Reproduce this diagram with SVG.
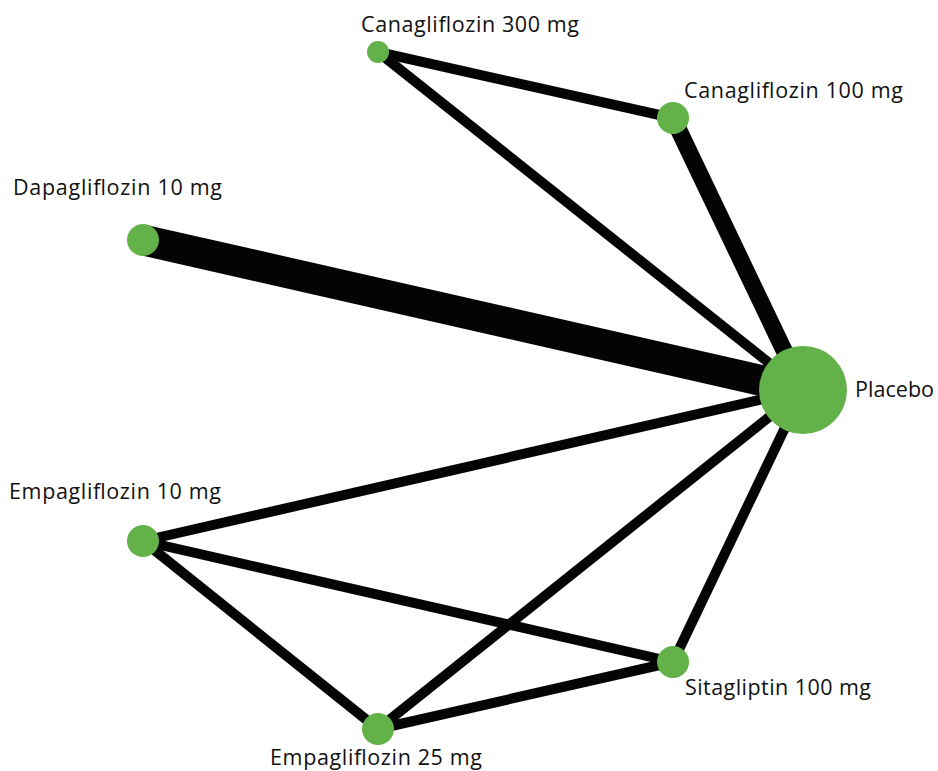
<svg xmlns="http://www.w3.org/2000/svg" width="938" height="771" viewBox="0 0 938 771">
<style>
.e{stroke:#030403;stroke-linecap:butt;fill:none}
.n{fill:#63b249}
text{font-family:"Open Sans","Noto Sans",sans-serif;font-size:21.5px;fill:#111}
</style>
<rect width="938" height="771" fill="#fff"/>
<g id="edges">
<line class="e" x1="143" y1="240" x2="803" y2="390" stroke-width="31"/>
<line class="e" x1="673" y1="118" x2="803" y2="390" stroke-width="17"/>
<line class="e" x1="378" y1="52" x2="673" y2="118" stroke-width="10"/>
<line class="e" x1="378" y1="52" x2="803" y2="390" stroke-width="10"/>
<line class="e" x1="143" y1="541" x2="803" y2="390" stroke-width="10"/>
<line class="e" x1="143" y1="541" x2="673" y2="662" stroke-width="10"/>
<line class="e" x1="143" y1="541" x2="378" y2="729" stroke-width="10"/>
<line class="e" x1="378" y1="729" x2="803" y2="390" stroke-width="10"/>
<line class="e" x1="378" y1="729" x2="673" y2="662" stroke-width="10"/>
<line class="e" x1="673" y1="662" x2="803" y2="390" stroke-width="10"/>
</g>
<g id="node-cana300"><circle class="n" cx="378" cy="52" r="11"/><text x="361" y="32" textLength="218" lengthAdjust="spacing">Canagliflozin 300 mg</text></g>
<g id="node-cana100"><circle class="n" cx="673" cy="118" r="16"/><text x="684" y="98" textLength="219" lengthAdjust="spacing">Canagliflozin 100 mg</text></g>
<g id="node-dapa10"><circle class="n" cx="143" cy="240" r="16"/><text x="13" y="195" textLength="209" lengthAdjust="spacing">Dapagliflozin 10 mg</text></g>
<g id="node-placebo"><circle class="n" cx="803" cy="390" r="44"/><text x="855" y="397" textLength="79" lengthAdjust="spacing">Placebo</text></g>
<g id="node-empa10"><circle class="n" cx="143" cy="541" r="16"/><text x="9" y="499" textLength="212" lengthAdjust="spacing">Empagliflozin 10 mg</text></g>
<g id="node-sita100"><circle class="n" cx="673" cy="662" r="16"/><text x="685" y="695" textLength="186" lengthAdjust="spacing">Sitagliptin 100 mg</text></g>
<g id="node-empa25"><circle class="n" cx="378" cy="729" r="16"/><text x="270" y="765" textLength="212" lengthAdjust="spacing">Empagliflozin 25 mg</text></g>
</svg>
